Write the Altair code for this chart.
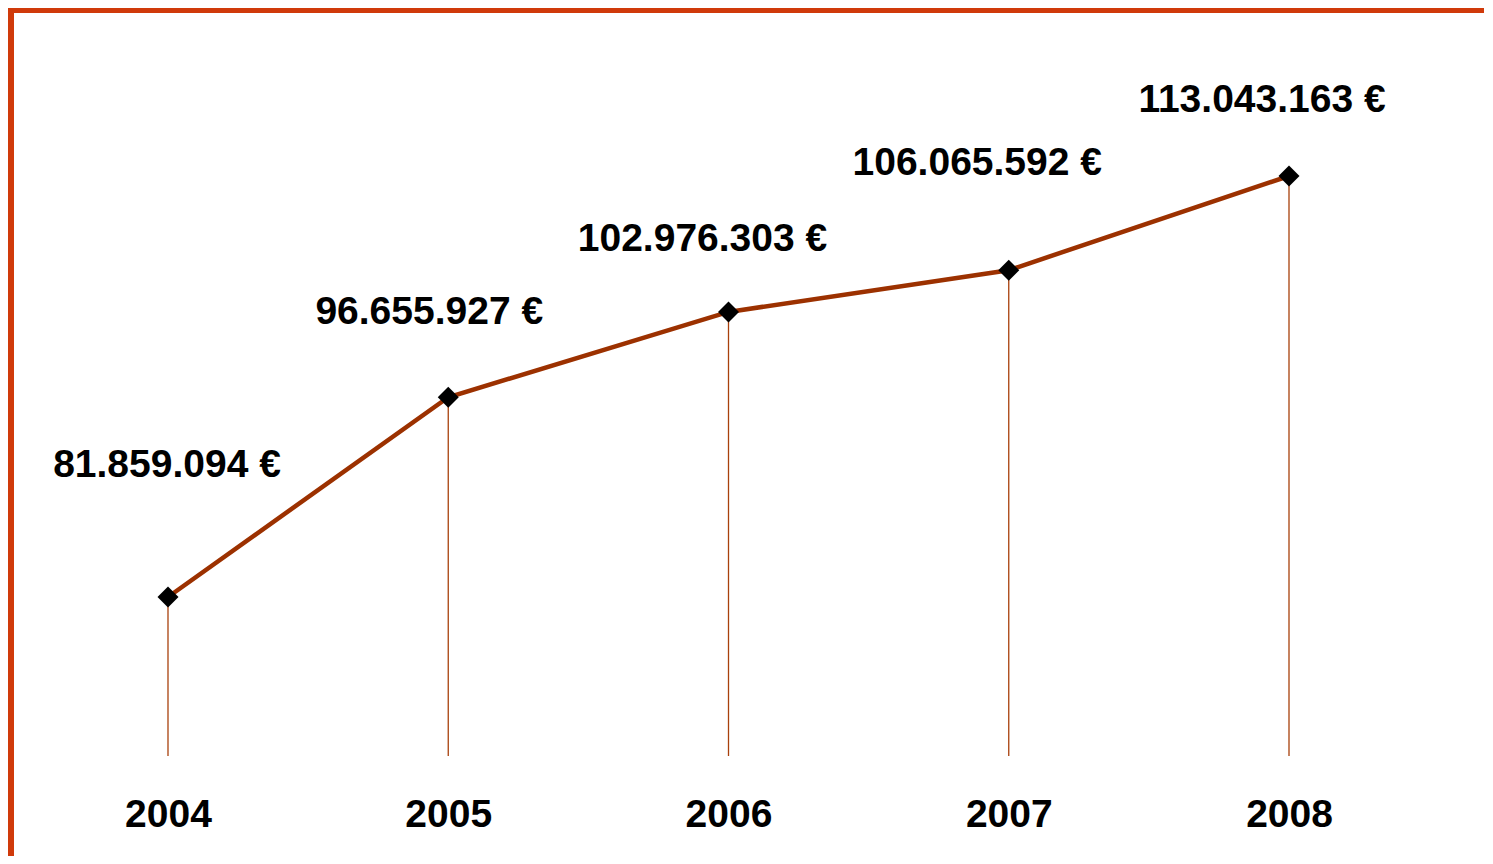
import altair as alt
import pandas as pd

years = [2004, 2005, 2006, 2007, 2008]
values = [81859094, 96655927, 102976303, 106065592, 113043163]
labels = [f"{v:,}".replace(",", ".") + " €" for v in values]

BASE = 70081800
TOP = 125264900

df = pd.DataFrame({"year": years, "value": values, "label": labels})

LINE_COLOR = "#9C3100"
DROP_COLOR = "#A8400C"
FRAME_COLOR = "#D03A0A"
FONT = "Liberation Sans"

xs = alt.Scale(domain=[2003.4505, 2008.6958], nice=False, zero=False)
ys = alt.Scale(domain=[BASE, TOP], nice=False, zero=False)

base = alt.Chart(df)

x_enc = alt.X(
    "year:Q",
    scale=xs,
    axis=alt.Axis(
        values=years,
        format="d",
        title=None,
        grid=False,
        domain=False,
        ticks=False,
        tickSize=0,
        labelFont=FONT,
        labelFontSize=39,
        labelFontWeight="bold",
        labelColor="black",
        labelBaseline="alphabetic",
        labelPadding=70,
        labelFlush=False,
        labelOverlap=False,
    ),
)
y_enc = alt.Y("value:Q", scale=ys, axis=None)

drops = base.mark_rule(color=DROP_COLOR, strokeWidth=1.3).encode(
    x=x_enc, y=y_enc, y2=alt.datum(BASE)
)

line = base.mark_line(color=LINE_COLOR, strokeWidth=4.5).encode(x=x_enc, y=y_enc)

points = base.mark_point(
    shape="diamond", size=440, filled=True, color="black", opacity=1
).encode(x=x_enc, y=y_enc)

# label offsets (dx, dy) relative to each point
offsets = {
    2004: (-1, -120),
    2005: (-19, -73),
    2006: (-26, -61),
    2007: (-31.5, -95),
    2008: (-27, -63.5),
}
texts = []
for yr in years:
    dx, dy = offsets[yr]
    texts.append(
        base.transform_filter(alt.datum.year == yr)
        .mark_text(
            font=FONT,
            fontSize=39,
            fontWeight="bold",
            color="black",
            align="center",
            baseline="alphabetic",
            dx=dx,
            dy=dy,
        )
        .encode(x=x_enc, y=y_enc, text="label:N")
    )

frame_df = pd.DataFrame({"a": [0]})
left_frame = alt.Chart(frame_df).mark_rule(color=FRAME_COLOR, strokeWidth=6).encode(
    x=alt.value(-3), y=alt.value(-3), y2=alt.value(900)
)
top_frame = alt.Chart(frame_df).mark_rule(color=FRAME_COLOR, strokeWidth=5).encode(
    x=alt.value(-6), x2=alt.value(1600), y=alt.value(-0.5)
)

chart = (
    alt.layer(drops, line, points, *texts, left_frame, top_frame)
    .properties(
        width=1470,
        height=745,
        padding={"left": 6, "top": 3, "right": 0, "bottom": 100},
        autosize=alt.AutoSizeParams(type="none"),
        background="white",
    )
    .configure_view(strokeWidth=0)
)

chart.save("out.html", embed_options={"renderer": "svg", "actions": False})
